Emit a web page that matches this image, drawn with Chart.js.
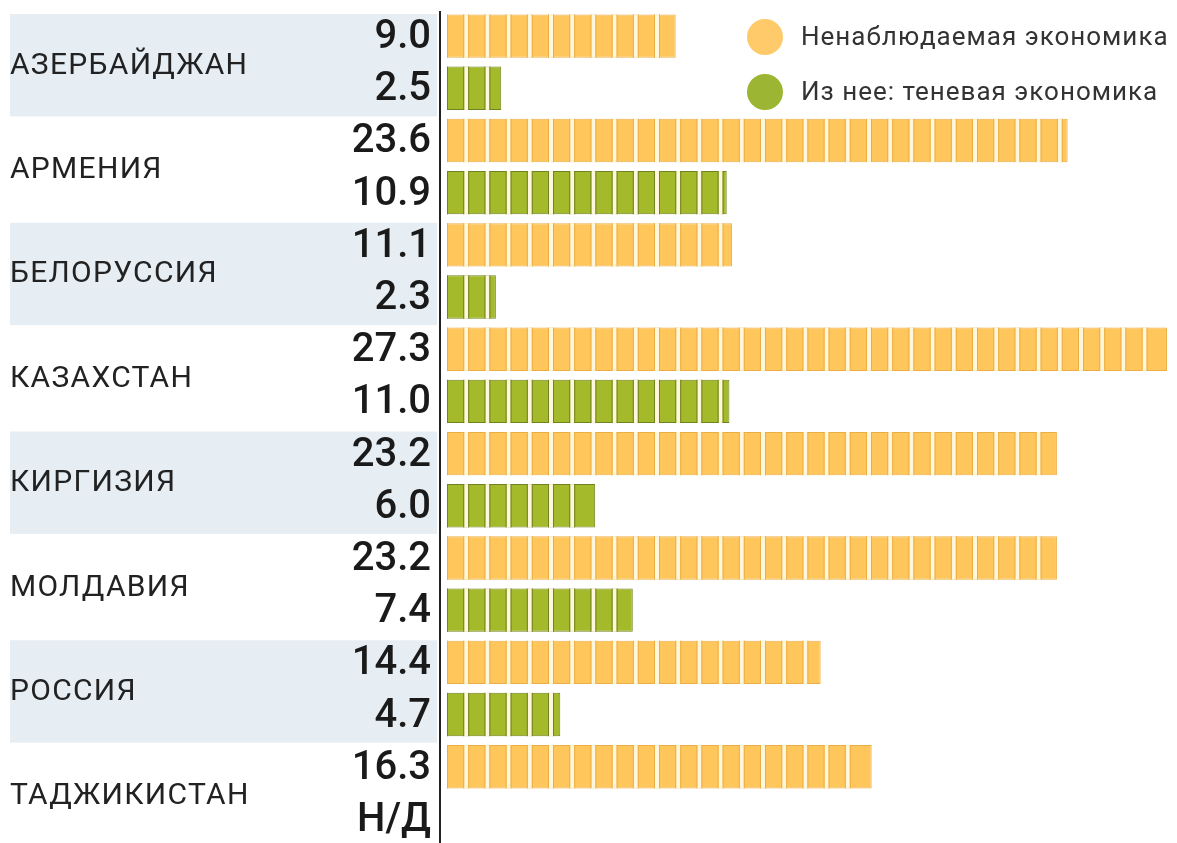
<!DOCTYPE html>
<html>
<head>
<meta charset="utf-8">
<script src="https://cdn.jsdelivr.net/npm/chart.js@4.4.1/dist/chart.umd.min.js"></script>
<style>
  html, body { margin: 0; padding: 0; background: #fff; overflow: hidden; }
</style>
</head>
<body>
<canvas id="myChart" width="1177" height="846"></canvas>
<script>
const countries = ['АЗЕРБАЙДЖАН', 'АРМЕНИЯ', 'БЕЛОРУССИЯ', 'КАЗАХСТАН', 'КИРГИЗИЯ', 'МОЛДАВИЯ', 'РОССИЯ', 'ТАДЖИКИСТАН'];
const unobserved = [9.0, 23.6, 11.1, 27.3, 23.2, 23.2, 14.4, 16.3];
const shadow = [2.5, 10.9, 2.3, 11.0, 6.0, 7.4, 4.7, null];
const seriesNames = ['Ненаблюдаемая экономика', 'Из нее: теневая экономика'];
const noDataLabel = 'Н/Д';

const orange = '#FFC65C';
const orangeEdge = '#EBAE45';
const green = '#A4BA2B';
const greenEdge = '#6F8420';
const gapColor = '#FFF7DC';
const bandColor = '#E6EEF4';

// draws the striped look, labels, axis line and legend
const decor = {
    id: 'decor',
    beforeDatasetsDraw(chart) {
        const ctx = chart.ctx;
        const y = chart.scales.y;
        const step = (y.bottom - y.top) / countries.length;
        ctx.save();
        ctx.fillStyle = bandColor;
        countries.forEach((c, i) => {
            if (i % 2 === 0) {
                const cy = y.getPixelForValue(i);
                ctx.fillRect(10, cy - step / 2 + 4, 427, step - 2);
            }
        });
        ctx.restore();
    },
    afterDatasetsDraw(chart) {
        const ctx = chart.ctx;
        const area = chart.chartArea;
        const pitch = 21.2;
        const gap = 4;
        ctx.save();

        // segments
        chart.data.datasets.forEach((ds, di) => {
            const meta = chart.getDatasetMeta(di);
            meta.data.forEach((el, i) => {
                if (ds.data[i] == null) return;
                const top = el.y - el.height / 2;
                const h = el.height;
                ctx.fillStyle = ds.borderColor;
                ctx.fillRect(area.left, top, 1, h);
                for (let p = area.left + pitch; p < el.x - 1; p += pitch) {
                    ctx.fillStyle = gapColor;
                    ctx.fillRect(p - gap, top, gap, h);
                    ctx.fillStyle = ds.borderColor;
                    ctx.fillRect(p - gap - 1, top, 1, h);
                    ctx.fillRect(p, top, 1, h);
                }
            });
        });

        // value labels
        ctx.fillStyle = '#1a1a1a';
        ctx.font = '500 40px Roboto';
        ctx.textAlign = 'right';
        ctx.textBaseline = 'middle';
        chart.data.datasets.forEach((ds, di) => {
            const meta = chart.getDatasetMeta(di);
            meta.data.forEach((el, i) => {
                const v = ds.data[i];
                const txt = v == null ? noDataLabel : v.toFixed(1);
                ctx.fillText(txt, 431, el.y + 2);
            });
        });

        // country labels
        const y = chart.scales.y;
        ctx.font = '400 30px Roboto';
        ctx.letterSpacing = '1.3px';
        ctx.textAlign = 'left';
        ctx.fillStyle = '#222';
        countries.forEach((c, i) => {
            ctx.fillText(c, 10, y.getPixelForValue(i) + 4);
        });

        // axis line
        ctx.fillStyle = '#222';
        ctx.fillRect(439, 11, 2, 840);

        // legend
        const legendY = [37, 92];
        const circleColors = ['#FFCB6A', '#9CB532'];
        ctx.font = '400 26px Roboto';
        ctx.letterSpacing = '1px';
        seriesNames.forEach((name, i) => {
            ctx.beginPath();
            ctx.arc(765, legendY[i], 18, 0, Math.PI * 2);
            ctx.fillStyle = circleColors[i];
            ctx.fill();
            ctx.fillStyle = '#333';
            ctx.fillText(name, 801, legendY[i] + 1);
        });
        ctx.restore();
    }
};

const ctx = document.getElementById('myChart').getContext('2d');

const myBarChart = new Chart(ctx, {
    type: 'bar',
    data: {
        labels: countries,
        datasets: [{
            label: seriesNames[0],
            data: unobserved,
            backgroundColor: orange,
            borderColor: orangeEdge,
            borderWidth: 1,
            borderSkipped: false
        }, {
            label: seriesNames[1],
            data: shadow,
            backgroundColor: green,
            borderColor: greenEdge,
            borderWidth: 1,
            borderSkipped: false
        }]
    },
    options: {
        indexAxis: 'y',
        responsive: false,
        maintainAspectRatio: false,
        animation: false,
        categoryPercentage: 1.0,
        barPercentage: 0.83,
        layout: {
            padding: {left: 447, right: 6, top: 10, bottom: 1}
        },
        scales: {
            x: {
                display: false,
                min: 0.48,
                max: 27.45
            },
            y: {
                display: false
            }
        },
        plugins: {
            legend: {display: false},
            tooltip: {enabled: false}
        }
    },
    plugins: [decor]
});
</script>
</body>
</html>
